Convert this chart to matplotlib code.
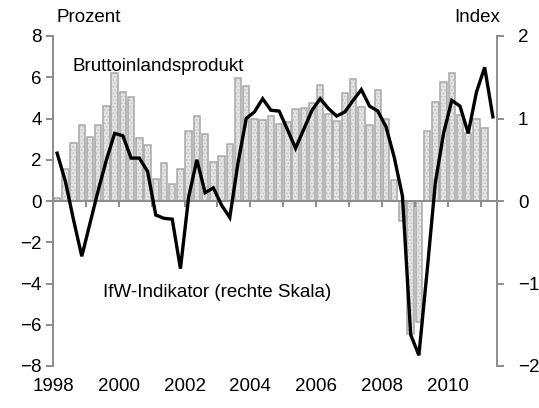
import numpy as np
import matplotlib
matplotlib.use("Agg")
import matplotlib.pyplot as plt
from matplotlib.ticker import FixedLocator, NullFormatter

plt.rcParams['font.family'] = ['Liberation Sans', 'DejaVu Sans']
plt.rcParams['hatch.linewidth'] = 0.6

# quarterly data, 1998Q1 .. 2011Q2
bip = [0.13, 1.55, 2.83, 3.67, 3.1, 3.7, 4.6, 6.2, 5.3, 5.03, 3.07, 2.72, 1.05, 1.85,
       0.81, 1.57, 3.37, 4.14, 3.25, 1.88, 2.17, 2.75, 5.97, 5.6, 4.0, 3.95, 4.1, 3.72,
       3.85, 4.48, 4.5, 4.77, 5.63, 4.24, 3.88, 5.26, 5.92, 4.58, 3.67, 5.37, 3.96, 1.0,
       -0.98, -6.45, -5.86, 3.38, 4.78, 5.78, 6.23, 4.15, 3.28, 4.0, 3.56, np.nan]
ifw = [0.58, 0.24, -0.23, -0.67, -0.27, 0.13, 0.5, 0.82, 0.79, 0.52, 0.52, 0.36, -0.17, -0.21,
       -0.22, -0.82, 0.05, 0.5, 0.1, 0.16, -0.05, -0.2, 0.46, 1.0, 1.08, 1.24, 1.1, 1.09,
       0.87, 0.64, 0.87, 1.1, 1.24, 1.12, 1.03, 1.08, 1.22, 1.35, 1.15, 1.09, 0.9, 0.53,
       0.06, -1.62, -1.87, -0.85, 0.22, 0.82, 1.22, 1.15, 0.82, 1.32, 1.62, 1.02]
year_labels = ['1998', '2000', '2002', '2004', '2006', '2008', '2010']

x = np.arange(len(ifw))
grey = '#8c8c8c'
fs = 13.5

fig = plt.figure(figsize=(5.39, 4.08), dpi=100)
ax = fig.add_axes([53 / 539, 42 / 408, 444 / 539, 330 / 408])
ax2 = ax.twinx()

# bars: dotted fill + outline
ax.bar(x, bip, width=0.78, color='#e3e3e3', edgecolor='#c0c0c0', hatch='.....', linewidth=0)
ax.bar(x, bip, width=0.78, fill=False, edgecolor='#a8a8a8', linewidth=1.1)

ax2.plot(x, ifw, color='black', linewidth=2.4, solid_joinstyle='miter')

ax.set_xlim(-0.5, len(ifw) - 0.5)
ax.set_ylim(-8, 8)
ax2.set_ylim(-2, 2)
ax.set_yticks(range(-8, 9, 2))
ax2.set_yticks([-2, -1, 0, 1, 2])

for a in (ax, ax2):
    a.spines['top'].set_visible(False)
    for s in ('left', 'right', 'bottom'):
        a.spines[s].set_color(grey)
        a.spines[s].set_linewidth(1.4)
ax.spines['right'].set_visible(False)
ax2.spines['left'].set_visible(False)
ax2.spines['bottom'].set_visible(False)
ax.spines['bottom'].set_position(('data', 0))

ax.tick_params(axis='y', direction='out', length=5, width=1.4, color=grey,
               labelsize=fs, pad=3)
ax2.tick_params(axis='y', direction='out', length=5, width=1.4, color=grey,
                labelsize=fs, pad=10)
ax.xaxis.set_major_locator(FixedLocator(np.arange(3.5, len(ifw) - 1, 4)))
ax.xaxis.set_major_formatter(NullFormatter())
ax.tick_params(axis='x', direction='out', length=4, width=1.4, color=grey)

for i, lab in enumerate(year_labels):
    ax.text(-0.5 + 8 * i, -0.062, lab, transform=ax.get_xaxis_transform(),
            ha='center', va='center', fontsize=fs)

ax.text(0.008, 1.055, 'Prozent', transform=ax.transAxes, ha='left', va='center', fontsize=fs)
ax.text(1.008, 1.055, 'Index', transform=ax.transAxes, ha='right', va='center', fontsize=fs)
ax.text(0.045, 0.908, 'Bruttoinlandsprodukt', transform=ax.transAxes,
        ha='left', va='center', fontsize=fs)
ax.text(0.113, 0.222, 'IfW-Indikator (rechte Skala)', transform=ax.transAxes,
        ha='left', va='center', fontsize=fs)

fig.savefig('out.png', dpi=100)
